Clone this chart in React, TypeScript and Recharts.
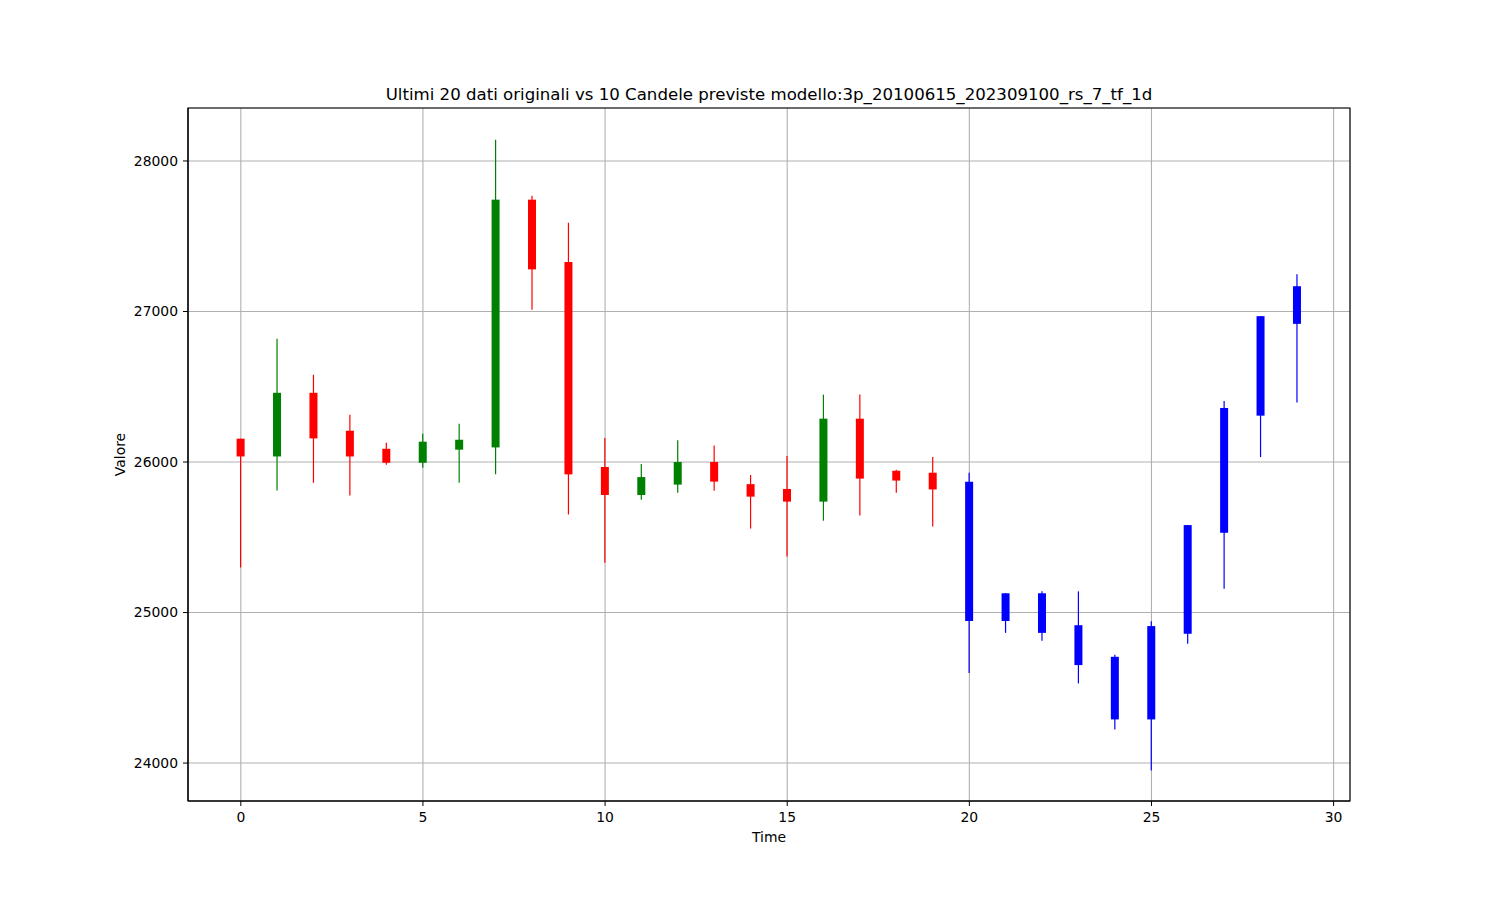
import React from 'react';
import { ComposedChart, Bar, XAxis, YAxis, CartesianGrid, ReferenceArea } from 'recharts';

// 20 original candles followed by 10 predicted ones
const times = Array.from({ length: 30 }, (_, i) => i);
const opens = [
  26155, 26037, 26460, 26208, 26088, 25995, 26082, 26097, 27743, 27329,
  25967, 25781, 25850, 26000, 25853, 25821, 25737, 26288, 25942, 25929,
  25869, 24944, 25128, 24916, 24706, 24290, 24859, 25530, 26308, 26918,
];
const highs = [
  26155, 26819, 26580, 26314, 26128, 26188, 26254, 28141, 27769, 27590,
  26159, 25987, 26144, 26110, 25914, 26040, 26448, 26448, 25949, 26033,
  25929, 25128, 25141, 25141, 24720, 24943, 25581, 26405, 26969, 27248,
];
const lows = [
  25300, 25811, 25862, 25778, 25982, 25962, 25862, 25918, 27011, 25652,
  25331, 25750, 25796, 25810, 25558, 25372, 25610, 25645, 25796, 25572,
  24598, 24865, 24812, 24529, 24223, 23951, 24793, 25158, 26033, 26395,
];
const closes = [
  26037, 26460, 26157, 26037, 25995, 26135, 26148, 27743, 27280, 25918,
  25781, 25900, 26000, 25870, 25770, 25737, 26288, 25890, 25877, 25818,
  24944, 25128, 24865, 24651, 24290, 24910, 25581, 26359, 26969, 27168,
];
const originalCount = 20;

const xTicks = [0, 5, 10, 15, 20, 25, 30];
const yTicks = [24000, 25000, 26000, 27000, 28000];

const data = times.map((t, i) => ({
  t,
  open: opens[i],
  high: highs[i],
  low: lows[i],
  close: closes[i],
  color: i >= originalCount ? '#0000ff' : closes[i] >= opens[i] ? '#008000' : '#ff0000',
}));

const FONT = '"DejaVu Sans", sans-serif';

const Candle = (props: any) => {
  const { x, y, width, height, payload } = props;
  const { open, close, high, low, color } = payload;
  const h = Math.abs(height);
  const top = height >= 0 ? y : y + height;
  const ratio = h / (high - low || 1);
  const cx = x + width / 2;
  const bodyTop = top + (high - Math.max(open, close)) * ratio;
  const bodyBottom = top + (high - Math.min(open, close)) * ratio;
  return (
    <g>
      <line x1={cx} x2={cx} y1={top} y2={top + h} stroke={color} strokeWidth={1.2} />
      <rect x={x} y={bodyTop} width={width} height={Math.max(bodyBottom - bodyTop, 1)} fill={color} />
    </g>
  );
};

export default function App() {
  return (
    <div style={{ position: 'absolute', left: 0, top: 0, width: 1500, height: 900, background: '#fff' }}>
      <ComposedChart
        width={1500}
        height={900}
        data={data}
        margin={{ top: 108, right: 150, bottom: 49, left: 118 }}
        style={{ fontFamily: FONT }}
      >
        <CartesianGrid stroke="#b0b0b0" strokeWidth={1.1} />
        <XAxis
          dataKey="t"
          type="number"
          domain={[-1.45, 30.45]}
          ticks={xTicks}
          allowDataOverflow
          height={50}
          tickSize={5}
          tickMargin={6.5}
          tick={{ fill: '#000', fontSize: 13.9, fontFamily: FONT }}
          tickLine={{ stroke: '#000' }}
          axisLine={{ stroke: '#000', strokeWidth: 1.1 }}
          label={{ value: 'Time', position: 'insideBottom', offset: 9, fill: '#000', fontSize: 13.9, fontFamily: FONT }}
        />
        <YAxis
          type="number"
          domain={[23748, 28352]}
          ticks={yTicks}
          allowDataOverflow
          width={70}
          tickSize={5}
          tickMargin={5}
          tick={{ fill: '#000', fontSize: 13.9, fontFamily: FONT }}
          tickLine={{ stroke: '#000' }}
          axisLine={{ stroke: '#000', strokeWidth: 1.1 }}
          label={{
            content: (p: any) => {
              const vb = p.viewBox;
              const lx = vb.x + 7;
              const ly = vb.y + vb.height / 2;
              return (
                <text
                  x={lx}
                  y={ly}
                  transform={`rotate(-90, ${lx}, ${ly})`}
                  textAnchor="middle"
                  fill="#000"
                  fontSize={13.9}
                  fontFamily={FONT}
                >
                  Valore
                </text>
              );
            },
          }}
        />
        <Bar dataKey={(d: any) => [d.low, d.high]} barSize={8} shape={Candle} isAnimationActive={false} />
        <ReferenceArea
          x1={-1.45}
          x2={30.45}
          y1={23748}
          y2={28352}
          fill="none"
          fillOpacity={0}
          stroke="#000"
          strokeWidth={1.1}
          ifOverflow="visible"
        />
      </ComposedChart>
      <svg width={1500} height={900} style={{ position: 'absolute', left: 0, top: 0, pointerEvents: 'none' }}>
        <text x={769} y={100} textAnchor="middle" fontSize={16.6} fontFamily={FONT} fill="#000">
          Ultimi 20 dati originali vs 10 Candele previste modello:3p_20100615_202309100_rs_7_tf_1d
        </text>
      </svg>
    </div>
  );
}
